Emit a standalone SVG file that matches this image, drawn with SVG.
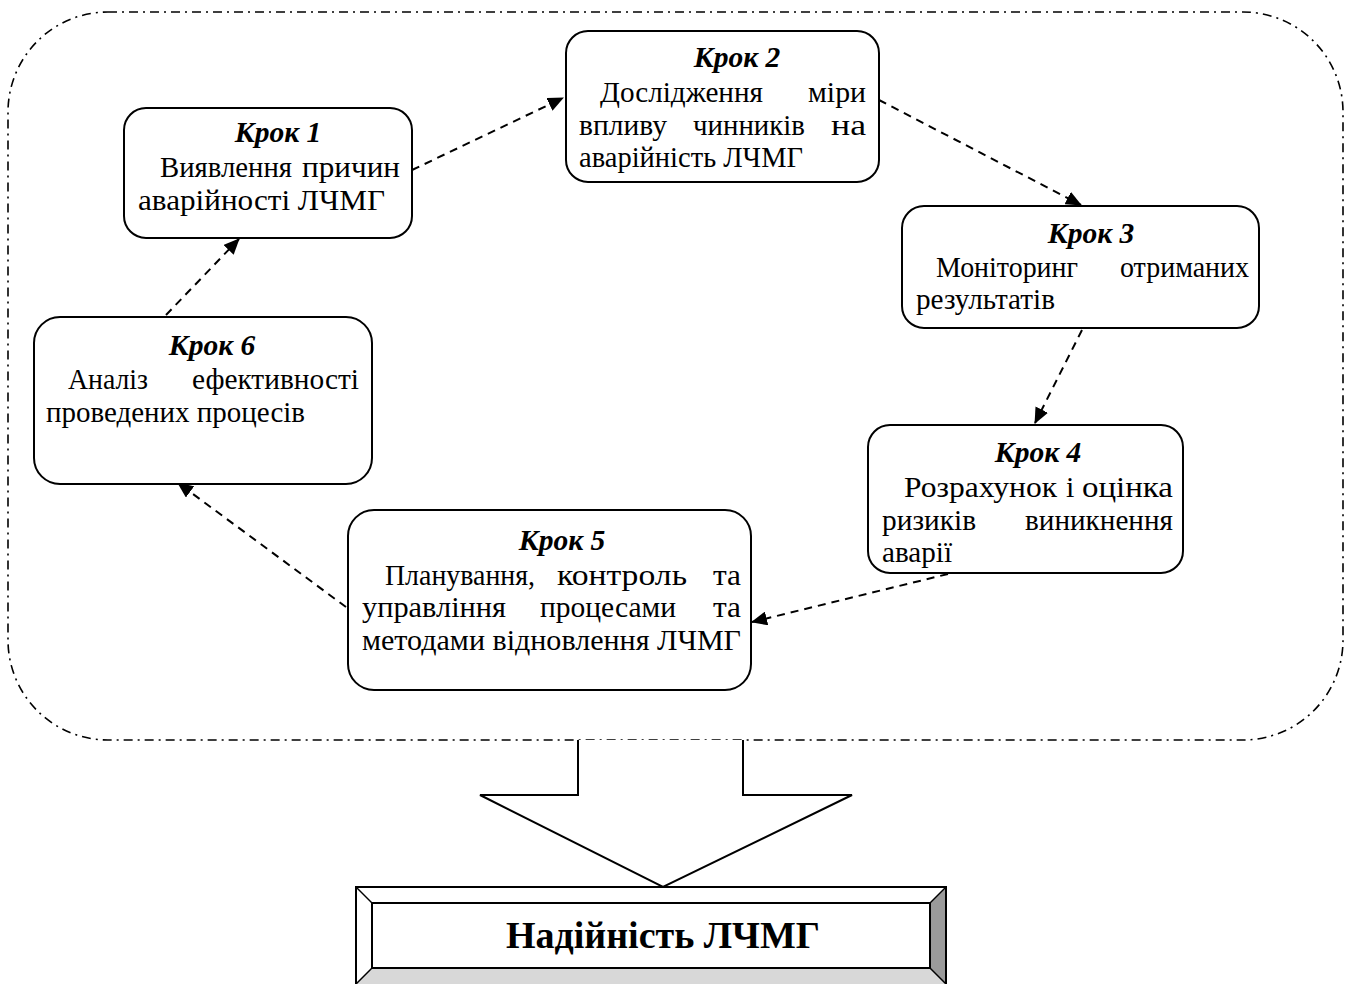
<svg xmlns="http://www.w3.org/2000/svg" width="1350" height="984" viewBox="0 0 1350 984">
<style>
.box{fill:#fff;stroke:#000;stroke-width:2}
.t{font-family:"Liberation Serif","Times New Roman",serif;font-size:30px;fill:#000}
.h{font-family:"Liberation Serif","Times New Roman",serif;font-size:29.5px;font-weight:bold;font-style:italic;fill:#000;text-anchor:middle}
.c{fill:none;stroke:#000;stroke-width:2;stroke-dasharray:8 6;marker-end:url(#ah)}
</style>
<defs>
<marker id="ah" markerUnits="userSpaceOnUse" markerWidth="16" markerHeight="14" refX="15" refY="7" orient="auto">
<path d="M0,0 L16,7 L0,14 z" fill="#000"/>
</marker>
</defs>
<rect x="0" y="0" width="1350" height="984" fill="#fff"/>
<rect id="frame" x="8" y="12" width="1335" height="728" rx="100" ry="100" fill="none" stroke="#000" stroke-width="1.6" stroke-dasharray="9 5 2 5"/>

<g id="connectors">
<line class="c" x1="412" y1="170" x2="563" y2="98"/>
<line class="c" x1="879" y1="100" x2="1081" y2="205"/>
<line class="c" x1="1082" y1="330" x2="1035" y2="423"/>
<line class="c" x1="948" y1="574" x2="752" y2="622"/>
<line class="c" x1="346" y1="607" x2="178" y2="483"/>
<line class="c" x1="166" y1="315" x2="239" y2="239"/>
</g>

<g id="step1">
<rect class="box" x="124" y="108" width="288" height="130" rx="22"/>
<text class="h" x="278" y="142">Крок 1</text>
<text class="t" x="160" y="177" textLength="132" lengthAdjust="spacingAndGlyphs">Виявлення</text>
<text class="t" x="302" y="177" textLength="98" lengthAdjust="spacingAndGlyphs">причин</text>
<text class="t" x="138" y="210" textLength="247" lengthAdjust="spacingAndGlyphs">аварійності ЛЧМГ</text>
</g>

<g id="step2">
<rect class="box" x="566" y="31" width="313" height="151" rx="22"/>
<text class="h" x="737" y="67">Крок 2</text>
<text class="t" x="600" y="102" textLength="163" lengthAdjust="spacingAndGlyphs">Дослідження</text>
<text class="t" x="808" y="102" textLength="58" lengthAdjust="spacingAndGlyphs">міри</text>
<text class="t" x="579" y="135" textLength="88" lengthAdjust="spacingAndGlyphs">впливу</text>
<text class="t" x="693" y="135" textLength="112" lengthAdjust="spacingAndGlyphs">чинників</text>
<text class="t" x="831" y="135" textLength="35" lengthAdjust="spacingAndGlyphs">на</text>
<text class="t" x="579" y="167" textLength="224" lengthAdjust="spacingAndGlyphs">аварійність ЛЧМГ</text>
</g>

<g id="step3">
<rect class="box" x="902" y="206" width="357" height="122" rx="22"/>
<text class="h" x="1091" y="243">Крок 3</text>
<text class="t" x="936" y="277" textLength="142" lengthAdjust="spacingAndGlyphs">Моніторинг</text>
<text class="t" x="1120" y="277" textLength="129" lengthAdjust="spacingAndGlyphs">отриманих</text>
<text class="t" x="916" y="309" textLength="139" lengthAdjust="spacingAndGlyphs">результатів</text>
</g>

<g id="step4">
<rect class="box" x="868" y="425" width="315" height="148" rx="22"/>
<text class="h" x="1038" y="462">Крок 4</text>
<text class="t" x="904" y="497" textLength="153" lengthAdjust="spacingAndGlyphs">Розрахунок</text>
<text class="t" x="1066" y="497">і</text>
<text class="t" x="1082" y="497" textLength="91" lengthAdjust="spacingAndGlyphs">оцінка</text>
<text class="t" x="882" y="530" textLength="94" lengthAdjust="spacingAndGlyphs">ризиків</text>
<text class="t" x="1025" y="530" textLength="148" lengthAdjust="spacingAndGlyphs">виникнення</text>
<text class="t" x="882" y="562" textLength="70" lengthAdjust="spacingAndGlyphs">аварії</text>
</g>

<g id="step5">
<rect class="box" x="348" y="510" width="403" height="180" rx="26"/>
<text class="h" x="562" y="550">Крок 5</text>
<text class="t" x="385" y="585" textLength="150" lengthAdjust="spacingAndGlyphs">Планування,</text>
<text class="t" x="557" y="585" textLength="130" lengthAdjust="spacingAndGlyphs">контроль</text>
<text class="t" x="713" y="585" textLength="28" lengthAdjust="spacingAndGlyphs">та</text>
<text class="t" x="362" y="617" textLength="144" lengthAdjust="spacingAndGlyphs">управління</text>
<text class="t" x="540" y="617" textLength="136" lengthAdjust="spacingAndGlyphs">процесами</text>
<text class="t" x="713" y="617" textLength="28" lengthAdjust="spacingAndGlyphs">та</text>
<text class="t" x="362" y="650" textLength="379" lengthAdjust="spacingAndGlyphs">методами відновлення ЛЧМГ</text>
</g>

<g id="step6">
<rect class="box" x="34" y="317" width="338" height="167" rx="26"/>
<text class="h" x="212" y="355">Крок 6</text>
<text class="t" x="68" y="389" textLength="80" lengthAdjust="spacingAndGlyphs">Аналіз</text>
<text class="t" x="192" y="389" textLength="167" lengthAdjust="spacingAndGlyphs">ефективності</text>
<text class="t" x="46" y="422" textLength="259" lengthAdjust="spacingAndGlyphs">проведених процесів</text>
</g>

<g id="bigArrow">
<path d="M578,740 L578,795 L480,795 L663,887 L852,795 L743,795 L743,740" fill="#fff" stroke="#000" stroke-width="2"/>
</g>

<g id="result">
<rect x="356" y="887" width="590" height="97" fill="#fff" stroke="#000" stroke-width="2"/>
<polygon points="930,903 946,887 946,984 930,968" fill="#9a9a9a"/>
<polygon points="372,968 930,968 946,984 356,984" fill="#d8d8d8"/>
<rect x="372" y="903" width="558" height="65" fill="#fff" stroke="#000" stroke-width="2"/>
<line x1="356" y1="887" x2="372" y2="903" stroke="#000" stroke-width="1.5"/>
<line x1="946" y1="887" x2="930" y2="903" stroke="#000" stroke-width="1.5"/>
<line x1="356" y1="984" x2="372" y2="968" stroke="#000" stroke-width="1.5"/>
<line x1="946" y1="984" x2="930" y2="968" stroke="#000" stroke-width="1.5"/>
<line x1="946" y1="887" x2="946" y2="984" stroke="#000" stroke-width="2"/>
<text x="663" y="948" text-anchor="middle" font-family="Liberation Serif, Times New Roman, serif" font-size="38" font-weight="bold">Надійність ЛЧМГ</text>
</g>
</svg>
